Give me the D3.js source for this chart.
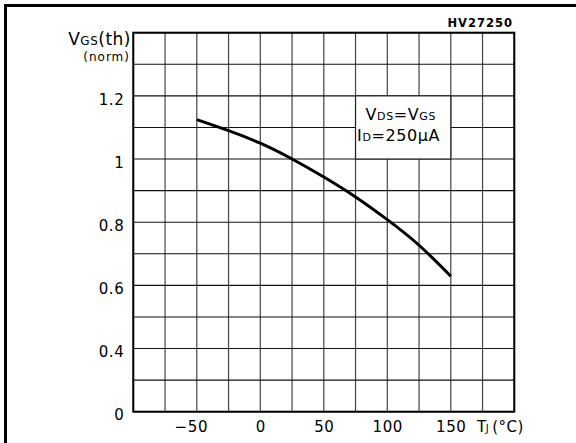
<!DOCTYPE html>
<html>
<head>
<meta charset="utf-8">
<script src="https://cdn.jsdelivr.net/npm/d3@7"></script>
<style>
  body { margin: 0; background: #fff; }
  svg { display: block; font-family: "DejaVu Sans", sans-serif; }
</style>
</head>
<body>
<div id="chart"></div>
<script>
// data
var temps = [-50, -25, 0, 25, 50, 75, 100, 125, 150];
var vth = [1.125, 1.090, 1.050, 1.0, 0.943, 0.880, 0.808, 0.727, 0.629];

var xTicks = [-50, 0, 50, 100, 150];
var xTickLabels = ["\u221250", "0", "50", "100", "150"];
var yTicks = [0.2, 0.4, 0.6, 0.8, 1.0, 1.2];   // bottom line is drawn as "0" (broken axis)
var yTickLabels = ["0", "0.4", "0.6", "0.8", "1", "1.2"];
var xGrid = d3.range(-100, 201, 25);
var yGrid = d3.range(2, 15).map(function(d){ return d / 10; });

var svg = d3.select("#chart")
    .append("svg")
    .attr("width", 576)
    .attr("height", 443);

/*outer frame, only top and left show*/
svg.append("path")
    .attr("d", "M5.5,443 L5.5,5.5 L576,5.5")
    .attr("fill", "none")
    .attr("stroke", "#000")
    .attr("stroke-width", 3);

var xScale = d3.scaleLinear().domain([-100, 200]).range([133.3, 514.3]);
var yScale = d3.scaleLinear().domain([0.2, 1.4]).range([411.7, 32.7]);

var grid = svg.append("g");
grid.selectAll(".vline")
    .data(xGrid)
    .join("line")
    .attr("x1", function(d){ return xScale(d); })
    .attr("x2", function(d){ return xScale(d); })
    .attr("y1", yScale(1.4))
    .attr("y2", yScale(0.2))
    .attr("stroke", "#444")
    .attr("stroke-width", 1.2);
grid.selectAll(".hline")
    .data(yGrid)
    .join("line")
    .attr("x1", xScale(-100))
    .attr("x2", xScale(200))
    .attr("y1", function(d){ return yScale(d); })
    .attr("y2", function(d){ return yScale(d); })
    .attr("stroke", "#111")
    .attr("stroke-width", 1.1);

/*plot border*/
svg.append("rect")
    .attr("x", xScale(-100))
    .attr("y", yScale(1.4))
    .attr("width", xScale(200) - xScale(-100))
    .attr("height", yScale(0.2) - yScale(1.4))
    .attr("fill", "none")
    .attr("stroke", "#000")
    .attr("stroke-width", 2);

/*condition box blanks the grid*/
svg.append("rect")
    .attr("x", xScale(75))
    .attr("y", yScale(1.2))
    .attr("width", xScale(150) - xScale(75))
    .attr("height", yScale(1.0) - yScale(1.2))
    .attr("fill", "#fff")
    .attr("stroke", "#222")
    .attr("stroke-width", 1.2);

var note = svg.append("g").attr("fill", "#000").style("letter-spacing", "0.6px");
var t1 = note.append("text").attr("x", xScale(75) + 10).attr("y", 119.5).attr("font-size", 16);
t1.append("tspan").text("V");
t1.append("tspan").attr("font-size", 11).text("DS");
t1.append("tspan").text("=V");
t1.append("tspan").attr("font-size", 11).text("GS");
var t2 = note.append("text").attr("x", xScale(75) + 1.5).attr("y", 141).attr("font-size", 16);
t2.append("tspan").text("I");
t2.append("tspan").attr("font-size", 11).text("D");
t2.append("tspan").text("=250\u03bcA");

/*curve*/
svg.append("path")
    .datum(temps.map(function(t, i){ return [t, vth[i]]; }))
    .attr("fill", "none")
    .attr("stroke", "#000")
    .attr("stroke-width", 3)
    .attr("d", d3.line()
        .curve(d3.curveNatural)
        .x(function(d){ return xScale(d[0]); })
        .y(function(d){ return yScale(d[1]); }));

/*Y axis*/
svg.append("g")
    .attr("transform", "translate(" + xScale(-100) + ",0)")
    .call(d3.axisLeft(yScale).tickValues(yTicks).tickSize(0).tickPadding(9)
        .tickFormat(function(d, i){ return yTickLabels[i]; }))
    .call(function(g){ g.select(".domain").remove(); })
    .selectAll("text")
    .attr("dy", "0.55em")
    .attr("fill", "#000")
    .style("font-family", "DejaVu Sans")
    .style("font-size", "15px")
    .style("letter-spacing", "0.6px");

/*X axis*/
svg.append("g")
    .attr("transform", "translate(0," + yScale(0.2) + ")")
    .call(d3.axisBottom(xScale).tickValues(xTicks).tickSize(0).tickPadding(9.5)
        .tickFormat(function(d, i){ return xTickLabels[i]; }))
    .call(function(g){ g.select(".domain").remove(); })
    .selectAll("text")
    .attr("dx", function(d){ return d < 0 ? -6 : 0; })
    .attr("fill", "#000")
    .style("font-family", "DejaVu Sans")
    .style("font-size", "15px")
    .style("letter-spacing", "0.6px");

/*axis titles*/
var yt = svg.append("text").attr("x", 131).attr("y", 44.5).attr("text-anchor", "end")
    .attr("font-size", 17).style("letter-spacing", "0.5px");
yt.append("tspan").text("V");
yt.append("tspan").attr("font-size", 12).text("GS");
yt.append("tspan").text("(th)");
svg.append("text").attr("x", 130).attr("y", 61).attr("text-anchor", "end")
    .attr("font-size", 12).style("letter-spacing", "1px").text("(norm)");

var xt = svg.append("text").attr("x", 477).attr("y", 431.7).attr("font-size", 15)
    .style("letter-spacing", "0.5px");
xt.append("tspan").text("T");
xt.append("tspan").attr("font-size", 10).attr("dx", -1).text("J");
xt.append("tspan").attr("dx", 3).text("(\u00b0C)");

svg.append("text")
    .attr("x", 513)
    .attr("y", 27.3)
    .attr("text-anchor", "end")
    .attr("font-size", 11.5)
    .attr("font-weight", "bold")
    .style("letter-spacing", "1px")
    .text("HV27250");
</script>
</body>
</html>
